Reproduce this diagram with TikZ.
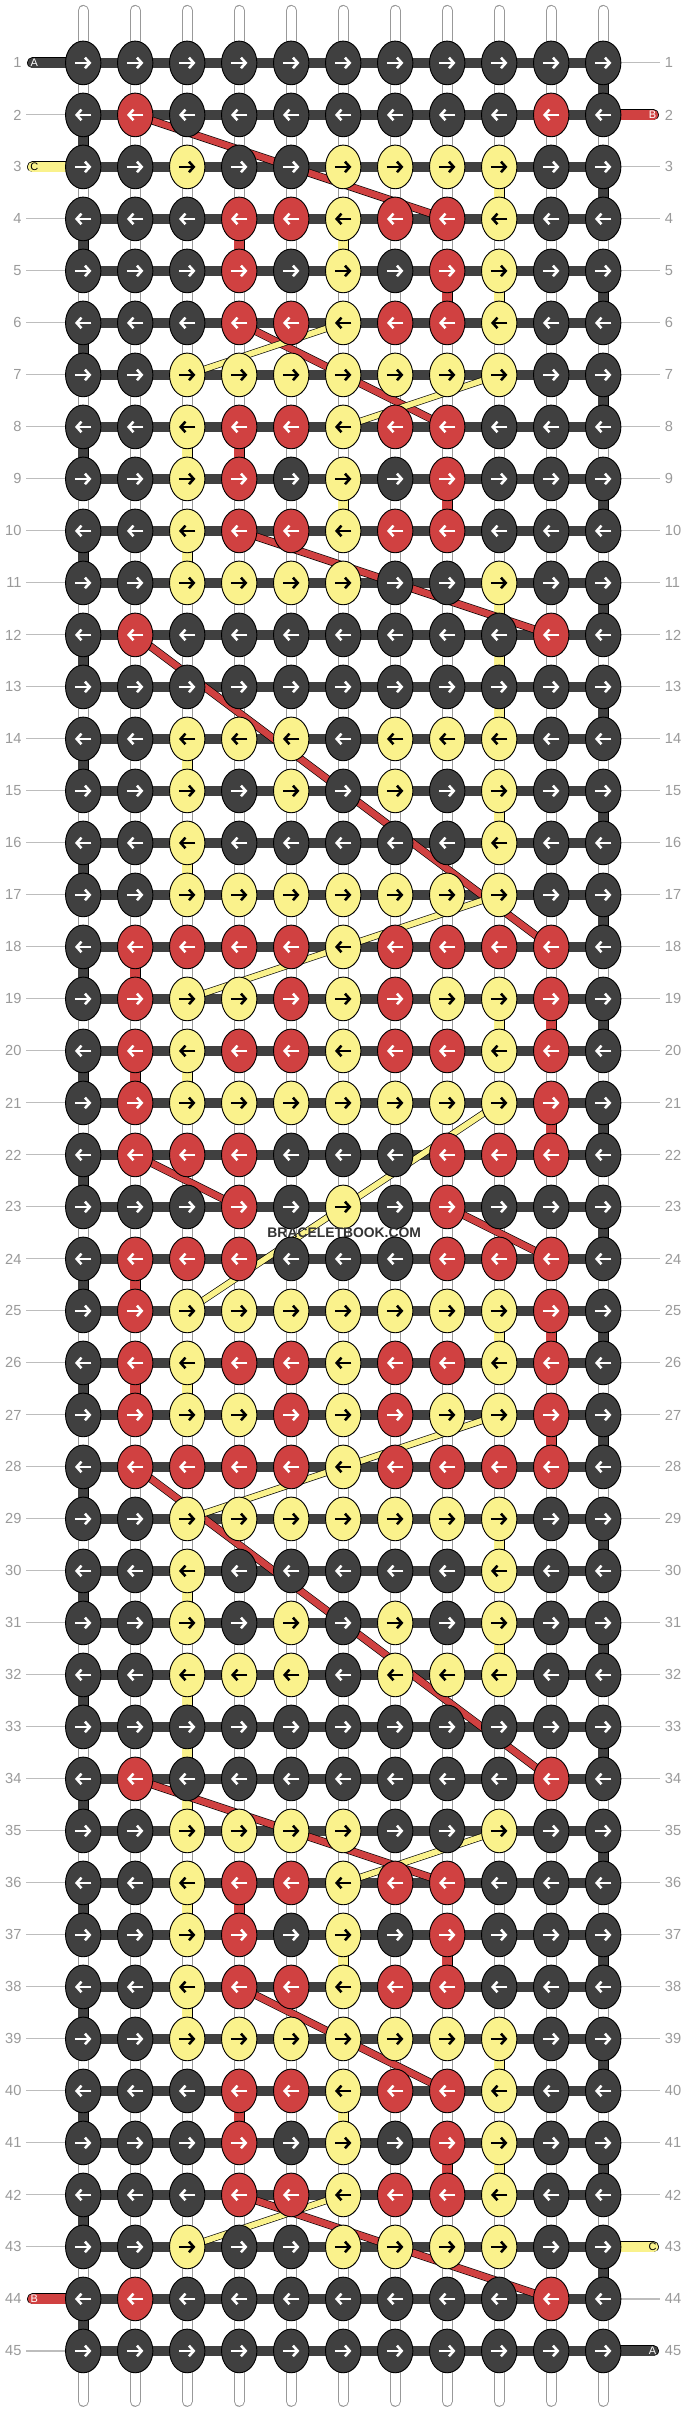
\documentclass[tikz,border=0pt]{standalone}
\usepackage{fontspec}
\setmainfont{Liberation Sans}
\usetikzlibrary{shapes.geometric,arrows.meta}

\definecolor{kdark}{HTML}{404040}
\definecolor{kred}{HTML}{D04141}
\definecolor{kyel}{HTML}{FAF28C}
\definecolor{rowgray}{HTML}{9A9A9A}
\definecolor{linegray}{HTML}{BDBDBD}

\pgfdeclarelayer{back}
\pgfdeclarelayer{strands}
\pgfdeclarelayer{bars}
\pgfdeclarelayer{diags}
\pgfsetlayers{back,strands,bars,diags,main}

\tikzset{
  arrowcol/.initial=white,
  knot/.style={ellipse, draw=black, line width=0.5pt, minimum width=0.68cm, minimum height=0.84cm, inner sep=0pt},
  dk/.style={knot, fill=kdark},
  rd/.style={knot, fill=kred},
  yw/.style={knot, fill=kyel, arrowcol=black},
  arw/.style={draw=\pgfkeysvalueof{/tikz/arrowcol}, line width=1.4pt, -{Straight Barb[length=2.6pt,width=5.8pt]}},
  goR/.style={path picture={\draw[arw] ([xshift=-4.5pt]path picture bounding box.center) -- ([xshift=4.5pt]path picture bounding box.center);}},
  goL/.style={path picture={\draw[arw] ([xshift=4.5pt]path picture bounding box.center) -- ([xshift=-4.5pt]path picture bounding box.center);}},
  strand/.style={draw=gray!80, line width=0.6pt, double=white, double distance=4.8pt, line cap=round},
  seg/.style={draw=black, line width=0.4pt, double=#1, double distance=5.2pt},
  bar/.style={kdark, line width=5.5pt},
  diag/.style={draw=black, line width=0.35pt, double=#1, double distance=3.6pt},
  stub/.style={draw=black, line width=0.4pt, double=#1, double distance=5.2pt, line cap=round},
  rownum/.style={text=rowgray, font=\fontsize{8}{9}\selectfont, inner sep=0pt},
  tie/.style={linegray, line width=0.6pt},
  endlbl/.style={font=\fontsize{6}{7}\selectfont, inner sep=0pt},
}

\begin{document}
\begin{tikzpicture}
  \useasboundingbox (0,0) rectangle (13.2308,-46.3846);
  \begin{pgfonlayer}{back}
    \fill[white] (0,0) rectangle (13.2308,-46.3846);
  \end{pgfonlayer}

  % knots, one row per line
  \foreach \row [count=\r] in {
    {dk,dk,dk,dk,dk,dk,dk,dk,dk,dk,dk},
    {dk,rd,dk,dk,dk,dk,dk,dk,dk,rd,dk},
    {dk,dk,yw,dk,dk,yw,yw,yw,yw,dk,dk},
    {dk,dk,dk,rd,rd,yw,rd,rd,yw,dk,dk},
    {dk,dk,dk,rd,dk,yw,dk,rd,yw,dk,dk},
    {dk,dk,dk,rd,rd,yw,rd,rd,yw,dk,dk},
    {dk,dk,yw,yw,yw,yw,yw,yw,yw,dk,dk},
    {dk,dk,yw,rd,rd,yw,rd,rd,dk,dk,dk},
    {dk,dk,yw,rd,dk,yw,dk,rd,dk,dk,dk},
    {dk,dk,yw,rd,rd,yw,rd,rd,dk,dk,dk},
    {dk,dk,yw,yw,yw,yw,dk,dk,yw,dk,dk},
    {dk,rd,dk,dk,dk,dk,dk,dk,dk,rd,dk},
    {dk,dk,dk,dk,dk,dk,dk,dk,dk,dk,dk},
    {dk,dk,yw,yw,yw,dk,yw,yw,yw,dk,dk},
    {dk,dk,yw,dk,yw,dk,yw,dk,yw,dk,dk},
    {dk,dk,yw,dk,dk,dk,dk,dk,yw,dk,dk},
    {dk,dk,yw,yw,yw,yw,yw,yw,yw,dk,dk},
    {dk,rd,rd,rd,rd,yw,rd,rd,rd,rd,dk},
    {dk,rd,yw,yw,rd,yw,rd,yw,yw,rd,dk},
    {dk,rd,yw,rd,rd,yw,rd,rd,yw,rd,dk},
    {dk,rd,yw,yw,yw,yw,yw,yw,yw,rd,dk},
    {dk,rd,rd,rd,dk,dk,dk,rd,rd,rd,dk},
    {dk,dk,dk,rd,dk,yw,dk,rd,dk,dk,dk},
    {dk,rd,rd,rd,dk,dk,dk,rd,rd,rd,dk},
    {dk,rd,yw,yw,yw,yw,yw,yw,yw,rd,dk},
    {dk,rd,yw,rd,rd,yw,rd,rd,yw,rd,dk},
    {dk,rd,yw,yw,rd,yw,rd,yw,yw,rd,dk},
    {dk,rd,rd,rd,rd,yw,rd,rd,rd,rd,dk},
    {dk,dk,yw,yw,yw,yw,yw,yw,yw,dk,dk},
    {dk,dk,yw,dk,dk,dk,dk,dk,yw,dk,dk},
    {dk,dk,yw,dk,yw,dk,yw,dk,yw,dk,dk},
    {dk,dk,yw,yw,yw,dk,yw,yw,yw,dk,dk},
    {dk,dk,dk,dk,dk,dk,dk,dk,dk,dk,dk},
    {dk,rd,dk,dk,dk,dk,dk,dk,dk,rd,dk},
    {dk,dk,yw,yw,yw,yw,dk,dk,yw,dk,dk},
    {dk,dk,yw,rd,rd,yw,rd,rd,dk,dk,dk},
    {dk,dk,yw,rd,dk,yw,dk,rd,dk,dk,dk},
    {dk,dk,yw,rd,rd,yw,rd,rd,dk,dk,dk},
    {dk,dk,yw,yw,yw,yw,yw,yw,yw,dk,dk},
    {dk,dk,dk,rd,rd,yw,rd,rd,yw,dk,dk},
    {dk,dk,dk,rd,dk,yw,dk,rd,yw,dk,dk},
    {dk,dk,dk,rd,rd,yw,rd,rd,yw,dk,dk},
    {dk,dk,yw,dk,dk,yw,yw,yw,yw,dk,dk},
    {dk,rd,dk,dk,dk,dk,dk,dk,dk,rd,dk},
    {dk,dk,dk,dk,dk,dk,dk,dk,dk,dk,dk}}{
    \ifodd\r\relax \def\dir{goR}\else \def\dir{goL}\fi
    \foreach \k [count=\c] in \row
      \node[\k, \dir] (k-\r-\c) at (\c+0.6, -\r-0.21) {};
  }

  % row numbers
  \foreach \r in {1,...,45}{
    \node[rownum, anchor=east] (ln-\r) at (0.42, -\r-0.21) {\r};
    \node[rownum, anchor=west] (rn-\r) at (12.78, -\r-0.21) {\r};
  }

  % loose ends
  \coordinate (a-in) at (0.625,-1.21);
  \coordinate (c-in) at (0.625,-3.21);
  \coordinate (b-out) at (0.625,-44.21);
  \coordinate (b-in) at (12.567,-2.21);
  \coordinate (c-out) at (12.567,-43.21);
  \coordinate (a-out) at (12.567,-45.21);
  \node[endlbl, text=white] (la-in) at (0.66,-1.21) {A};
  \node[endlbl, text=black] (lc-in) at (0.66,-3.21) {C};
  \node[endlbl, text=white] (lb-out) at (0.66,-44.21) {B};
  \node[endlbl, text=white] (lb-in) at (12.55,-2.21) {B};
  \node[endlbl, text=black] (lc-out) at (12.55,-43.21) {C};
  \node[endlbl, text=white] (la-out) at (12.55,-45.21) {A};

  \begin{pgfonlayer}{strands}
    \foreach \c in {1,...,11}{
      \coordinate (top-\c) at (\c+0.6,-0.2);
      \coordinate (bot-\c) at (\c+0.6,-46.18);
      \draw[strand] (top-\c) -- (bot-\c);
    }
    % turns of A at the edges
    \foreach \r [evaluate=\r as \s using int(\r+1)] in {1,3,...,43}
      \draw[seg=kdark] (k-\r-11.center) -- (k-\s-11.center);
    \foreach \r [evaluate=\r as \s using int(\r+1)] in {2,4,...,44}
      \draw[seg=kdark] (k-\r-1.center) -- (k-\s-1.center);
    % B going down
    \foreach \r/\c [evaluate=\r as \s using int(\r+1)] in {4/4,5/8,8/4,9/8,18/2,19/10,20/2,21/10,24/2,25/10,26/2,27/10,36/4,37/8,40/4,41/8}
      \draw[seg=kred] (k-\r-\c.center) -- (k-\s-\c.center);
    % C going down
    \foreach \r/\c [evaluate=\r as \s using int(\r+1)] in {3/9,4/6,5/9,8/3,9/6,10/3,11/9,12/9,13/9,14/3,15/9,16/3,19/9,20/3,25/9,26/3,29/9,30/3,31/9,32/3,33/3,34/3,36/3,37/6,38/3,39/9,40/6,41/9}
      \draw[seg=kyel] (k-\r-\c.center) -- (k-\s-\c.center);
    % thin lines to the row numbers
    \foreach \r in {2,4,5,...,43,45}
      \draw[tie] ([xshift=2.5pt]ln-\r.east) -- (k-\r-1);
    \foreach \r in {1,3,4,...,42,44}
      \draw[tie] (k-\r-11) -- ([xshift=-2.5pt]rn-\r.west);
  \end{pgfonlayer}

  \begin{pgfonlayer}{bars}
    \foreach \r in {1,...,45}
      \draw[bar] (k-\r-1.center) -- (k-\r-11.center);
    \draw[stub=kdark] (a-in) -- (k-1-1.center);
    \draw[stub=kyel] (c-in) -- (k-3-1.center);
    \draw[stub=kred] (b-out) -- (k-44-1.center);
    \draw[stub=kred] (b-in) -- (k-2-11.center);
    \draw[stub=kyel] (c-out) -- (k-43-11.center);
    \draw[stub=kdark] (a-out) -- (k-45-11.center);
  \end{pgfonlayer}

  \begin{pgfonlayer}{diags}
    \foreach \a/\b in {2-2/4-8,6-4/8-8,10-4/12-10,12-2/18-10,22-2/23-4,23-8/24-10,28-2/34-10,34-2/36-8,38-4/40-8,42-4/44-10}
      \draw[diag=kred] (k-\a.center) -- (k-\b.center);
    \foreach \a/\b in {6-6/7-3,7-9/8-6,17-9/19-3,21-9/25-3,27-9/29-3,35-9/36-6,42-6/43-3}
      \draw[diag=kyel, double distance=3.1pt] (k-\a.center) -- (k-\b.center);
  \end{pgfonlayer}

  \node[font=\bfseries\fontsize{7.6}{8}\selectfont, text=black!80, inner sep=0pt] (wm) at (6.62,-23.7) {BRACELETBOOK.COM};
\end{tikzpicture}
\end{document}
